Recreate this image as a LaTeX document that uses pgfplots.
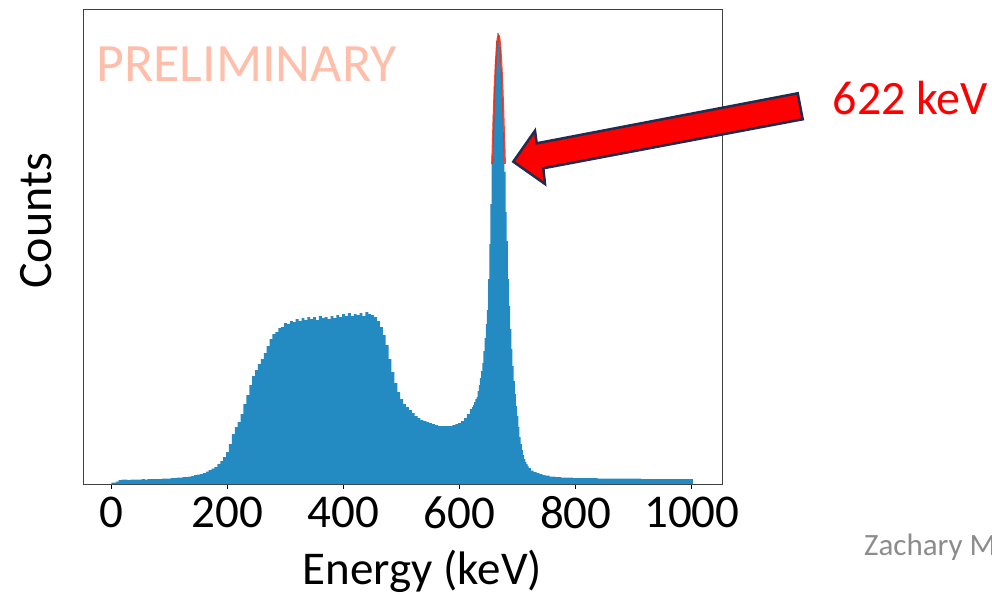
\documentclass[border=0pt]{standalone}
\usepackage{fontspec}
\setmainfont{Carlito}
\usepackage{pgfplots}
\pgfplotsset{compat=1.18}
\usepackage{pgfplotstable}

\definecolor{histblue}{RGB}{36,139,194}
\definecolor{fitred}{RGB}{255,40,10}
\definecolor{prelim}{RGB}{255,190,170}
\definecolor{arrowedge}{RGB}{31,45,80}
\definecolor{credit}{RGB}{140,140,140}

% energy (keV) vs counts (arbitrary units)
\pgfplotstableread{
E h
0 1.5
5 1.5
10 2.5
15 4
20 4.5
25 4.5
30 4
35 4.5
40 4.5
45 4.5
50 4.5
55 5
60 4.5
65 5
70 5
75 5
80 5
85 5
90 5.5
95 5.5
100 5.5
105 6
110 6
115 6.5
120 6.5
125 7
130 7
135 7.5
140 8
145 9
150 9.5
155 10
160 11
165 12.5
170 14
175 15.5
180 17
185 20
190 23
195 27
200 32
205 40
210 50
215 57
220 62
225 70
230 80
235 89
240 99
245 108
250 114
255 120
260 125
265 131
270 138
275 145
280 150
285 152
290 156
295 157
300 161
305 160
310 163
315 162
320 165
325 163
330 166
335 164
340 167
345 165
350 167
355 164
360 168
365 166
370 167
375 165
380 168
385 166
390 169
395 167
400 170
405 168
410 171
415 168
420 170
425 169
430 171
435 168
440 172
445 170
450 169
455 167
460 163
465 157
470 149
475 139
480 125
485 112
490 101
495 92
500 85
505 80
510 77
515 74
520 71
525 68
530 66
535 64
540 63
545 62
550 61
555 60
560 59
565 58
570 58
575 58
580 58
585 58
590 59
595 60
600 61
605 63
610 66
615 70
620 75
622 77
624 79
626 82
628 85
630 87
632 93
634 99
636 106
638 113
640 121
642 133
644 146
646 160
648 174
650 205
652 240
654 280
656 328
658 368
660 398
662 425
664 443
666 451
668 449
670 437
672 415
674 386
676 352
678 312
680 272
682 243
684 205
686 178
688 155
690 135
692 118
694 103
696 90
698 78
700 68
702 57
704 47
706 40
708 34
710 29
712 25
714 22
716 20
718 18
720 16
725 13.5
730 12
735 11
740 10
745 9
750 8.5
760 7.5
770 7
780 6.5
790 6.5
800 6
825 6
850 5.5
875 5.5
900 5.5
925 5
950 5
975 5
1000 5
1002 5
}\spectrum

% gaussian fit over the photopeak
\pgfplotstableread{
E h
656 320
657 339
658 357
659 375
660 391
661 405
662 418
663 428
664 437
665 443
666 447
667 448
668 447
669 443
670 437
671 428
672 418
673 405
674 391
675 375
676 357
677 339
678 320
}\peakfit

\begin{document}
\begin{tikzpicture}[x=1pt,y=1pt]
\useasboundingbox (0,0) rectangle (992,595);
\begin{axis}[
    at={(83pt,111pt)}, anchor=south west,
    scale only axis,
    width=639pt, height=474pt,
    xmin=-49, xmax=1052,
    ymin=0, ymax=474,
    xtick={0,200,...,1000},
    ytick=\empty,
    tick pos=left,
    tick align=outside,
    major tick length=5pt,
    axis line style={black!75, line width=1pt},
    tick style={black, line width=0.8pt},
    ticklabel style={font=\fontsize{47}{56}\selectfont},
    xticklabel style={yshift=-4pt},
    /pgf/number format/assume math mode=true,
    /pgf/number format/1000 sep={},
    xlabel={Energy (keV)},
    ylabel={Counts},
    every axis x label/.style={at={(axis description cs:0.531,-0.213)}, anchor=base,
        font=\fontsize{47}{56}\selectfont},
    every axis y label/.style={at={(axis description cs:-0.049,0.555)}, rotate=90, anchor=base,
        font=\fontsize{48}{56}\selectfont},
]
\addplot[const plot mark mid, fill=histblue, draw=none] table[x=E, y=h] {\spectrum} \closedcycle;
\addplot[fitred, opacity=0.85, line width=2pt, smooth] table[x=E, y=h] {\peakfit};
\end{axis}

\node[anchor=base west, inner sep=0pt, text=prelim, font=\fontsize{54}{60}\selectfont] at (96,513) {PRELIMINARY};

\filldraw[fill=red, draw=arrowedge, line width=2.5pt, line join=miter]
  (797.7,501.7) -- (802.7,475.7) -- (543.3,426.7) -- (545,411) -- (513.3,433.3)
  -- (535,464.3) -- (536.7,451.7) -- cycle;

\node[anchor=base west, inner sep=0pt, text=red, font=\fontsize{48}{56}\selectfont] at (832.5,480) {622 keV};
\node[anchor=base west, inner sep=0pt, text=credit, font=\fontsize{31}{36}\selectfont] at (864,40) {Zachary M};
\end{tikzpicture}
\end{document}
